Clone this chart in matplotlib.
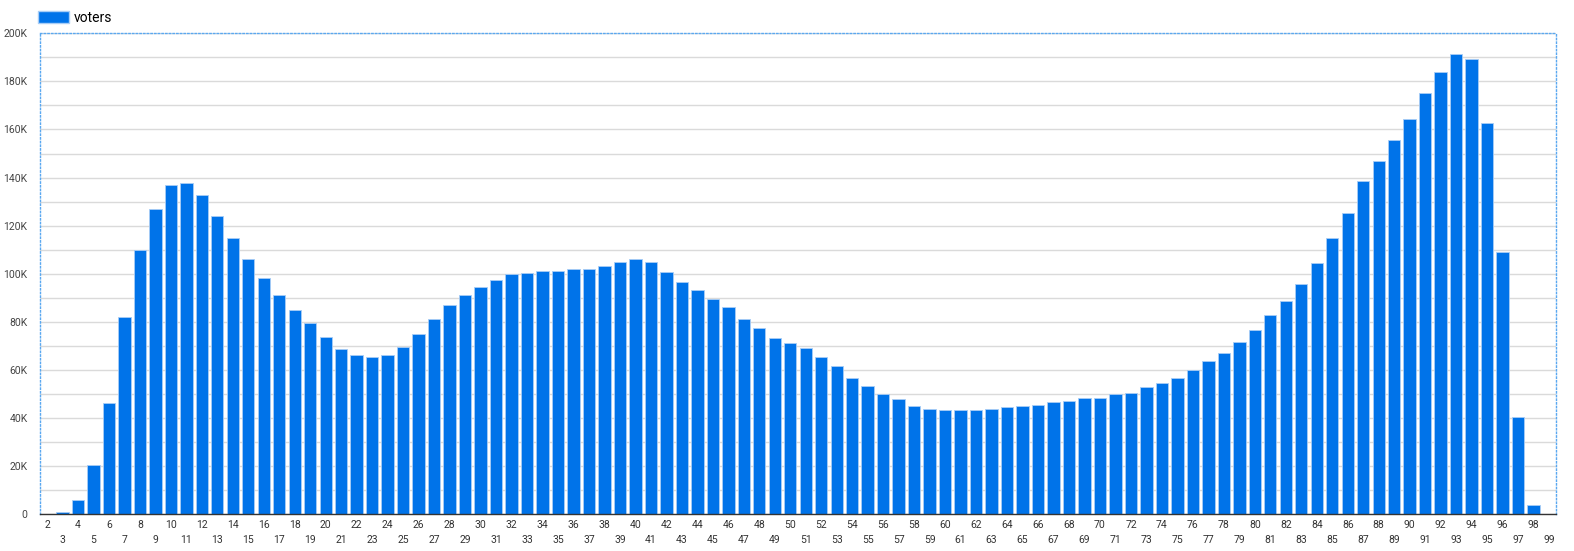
import matplotlib
matplotlib.use('Agg')
import matplotlib.pyplot as plt
from matplotlib.patches import Patch
from matplotlib.ticker import FuncFormatter, MultipleLocator

plt.rcParams['font.family'] = ['Roboto', 'DejaVu Sans']

# data (voters per age, thousands)
ages = list(range(2, 100))
voters_k = [0.3, 1.0, 5.8, 20.5, 46.1, 82.1, 110.1, 127.1, 136.8, 137.8,
            132.8, 124.0, 115.0, 106.2, 98.3, 91.0, 84.9, 79.6, 73.8, 68.8,
            66.4, 65.4, 66.4, 69.4, 75.0, 81.4, 87.0, 91.3, 94.7, 97.6,
            99.8, 100.2, 101.1, 101.1, 102.2, 102.2, 103.2, 105.1, 106.1, 105.1,
            100.8, 96.4, 93.2, 89.6, 86.3, 81.4, 77.5, 73.2, 71.2, 69.3,
            65.3, 61.5, 56.5, 53.2, 50.1, 47.8, 45.1, 43.9, 43.2, 43.2,
            43.2, 43.9, 44.6, 44.9, 45.6, 46.5, 47.2, 48.2, 48.2, 49.9,
            50.4, 52.9, 54.5, 56.8, 60.1, 63.9, 67.1, 71.8, 76.7, 82.8,
            88.8, 95.8, 104.6, 114.9, 125.4, 138.7, 147.1, 155.6, 164.2, 175.3,
            183.8, 191.4, 189.2, 162.5, 109.2, 40.4, 3.8, 0.1]
voters = [v * 1000 for v in voters_k]

bar_color = '#0073e9'

fig = plt.figure(figsize=(15.74, 5.51), dpi=100)
ax = fig.add_axes([40 / 1574, 36.7 / 551, 1516 / 1574, 481 / 551])

pos = list(range(len(ages)))
ax.bar(pos, voters, width=0.8, color=bar_color, edgecolor='#a8cdf6', linewidth=0.6, zorder=3)

ax.set_xlim(-0.45, len(ages) - 0.55)
ax.set_ylim(0, 200000)

# y axis: labels every 20K, grid every 10K
ax.yaxis.set_major_locator(MultipleLocator(20000))
ax.yaxis.set_minor_locator(MultipleLocator(10000))
ax.yaxis.set_major_formatter(FuncFormatter(lambda v, p: '0' if v == 0 else '%dK' % (v / 1000)))
ax.tick_params(axis='y', which='both', length=0, pad=9, labelsize=7.5, labelcolor='#444444')
ax.grid(axis='y', which='both', color='#dadada', linewidth=1, zorder=0)

# x axis: staggered labels, even ages on first row, odd on second
even = [i for i, a in enumerate(ages) if a % 2 == 0]
odd = [i for i, a in enumerate(ages) if a % 2 == 1]
ax.set_xticks(even)
ax.set_xticklabels([str(ages[i]) for i in even])
ax.set_xticks(odd, minor=True)
ax.set_xticklabels([str(ages[i]) for i in odd], minor=True)
ax.tick_params(axis='x', which='major', length=0, pad=4, labelsize=7.5, labelcolor='#333333')
ax.tick_params(axis='x', which='minor', length=0, pad=15, labelsize=7.5, labelcolor='#333333')

for side in ['left', 'right', 'top']:
    ax.spines[side].set_color('#5aa8f0')
    ax.spines[side].set_linestyle(':')
    ax.spines[side].set_linewidth(1)
ax.spines['bottom'].set_color('#333333')
ax.spines['bottom'].set_linewidth(1)
ax.spines['bottom'].set_zorder(4)

fig.legend(handles=[Patch(facecolor=bar_color, edgecolor='#a8cdf6', label='voters')],
           loc='upper left', bbox_to_anchor=(38 / 1574, 1 - 11 / 551), frameon=False,
           fontsize=10, handlelength=2.2, handleheight=0.95, handletextpad=0.4,
           borderaxespad=0, borderpad=0)

fig.savefig('out.png', dpi=100)
